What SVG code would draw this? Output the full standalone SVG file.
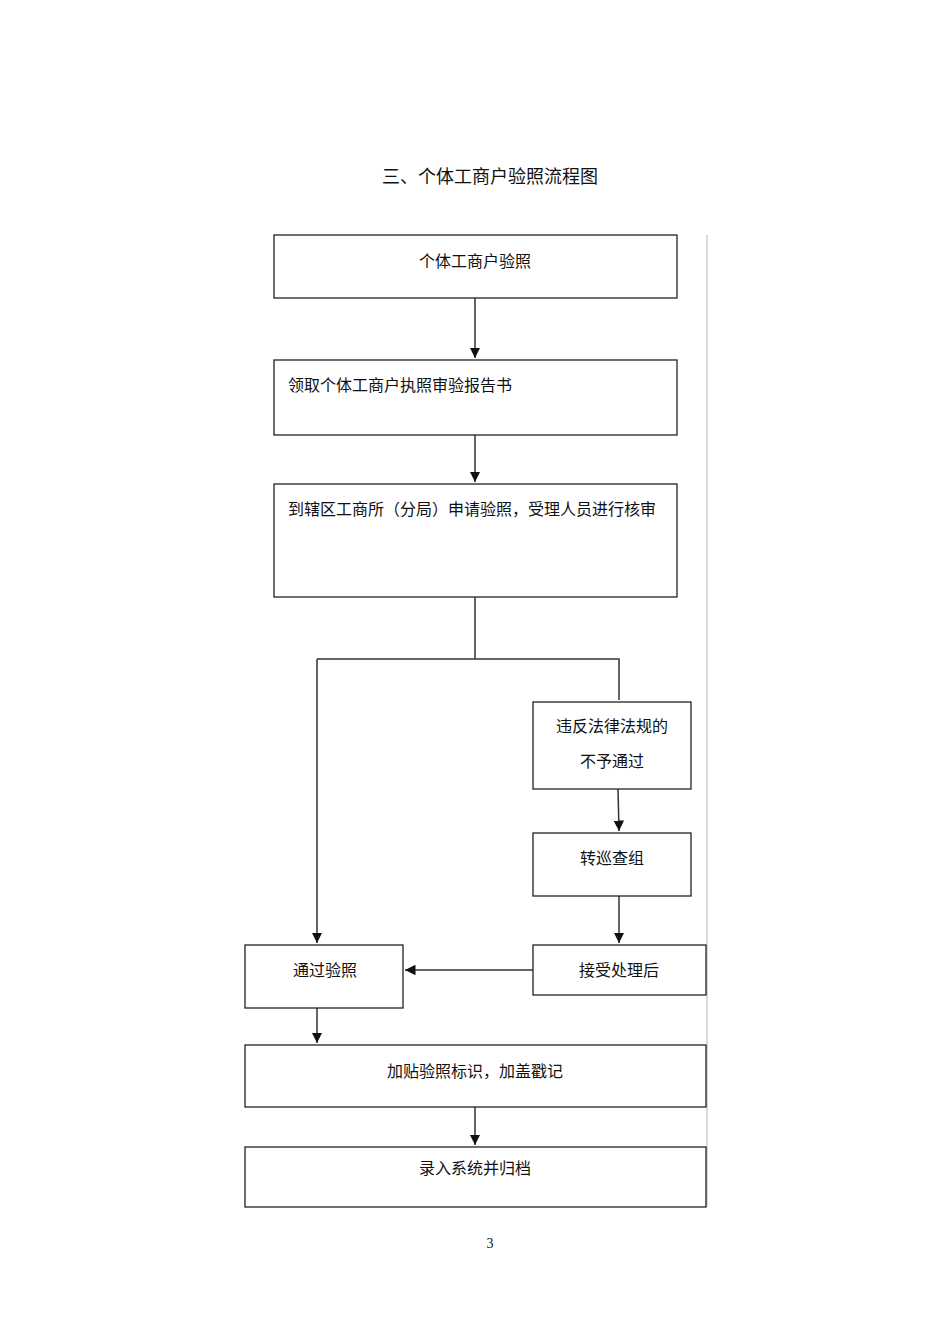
<svg xmlns="http://www.w3.org/2000/svg" width="950" height="1344" viewBox="0 0 950 1344">
<style>
rect{fill:#fff;stroke:#222;stroke-width:1.3}
text{font-family:"Liberation Serif","Noto Sans CJK SC",serif;font-size:16px;fill:#111}
.c{text-anchor:middle}
.l{fill:none;stroke:#333;stroke-width:1.5}
</style>
<defs><marker id="a" viewBox="0 0 10 10" refX="10" refY="5" markerWidth="7" markerHeight="7" orient="auto"><path d="M0,0L10,5L0,10z" fill="#111"/></marker></defs>
<rect width="950" height="1344" style="stroke:none"/>
<text class="c" x="490" y="183" style="font-size:18px">三、个体工商户验照流程图</text>
<line x1="707" y1="235" x2="707" y2="1207" stroke="#ccc" stroke-width="1.5"/>
<g id="connectors">
<path class="l" d="M475,298V358" marker-end="url(#a)"/>
<path class="l" d="M475,435V482" marker-end="url(#a)"/>
<path class="l" d="M475,597V659M317,659H619V700M317,659V943" marker-end="url(#a)"/>
<path class="l" d="M618,789L619,831" marker-end="url(#a)"/>
<path class="l" d="M619,896V943" marker-end="url(#a)"/>
<path class="l" d="M533,970H405" marker-end="url(#a)"/>
<path class="l" d="M317,1008V1043" marker-end="url(#a)"/>
<path class="l" d="M475,1107V1145" marker-end="url(#a)"/>
</g>
<g id="n1"><rect x="274" y="235" width="403" height="63"/><text class="c" x="475" y="267">个体工商户验照</text></g>
<g id="n2"><rect x="274" y="360" width="403" height="75"/><text x="288" y="391">领取个体工商户执照审验报告书</text></g>
<g id="n3"><rect x="274" y="484" width="403" height="113"/><text x="288" y="515">到辖区工商所（分局）申请验照，受理人员进行核审</text></g>
<g id="n4"><rect x="533" y="702" width="158" height="87"/><text class="c" x="612" y="732">违反法律法规的</text><text class="c" x="612" y="767">不予通过</text></g>
<g id="n5"><rect x="533" y="833" width="158" height="63"/><text class="c" x="612" y="864">转巡查组</text></g>
<g id="n6"><rect x="533" y="945" width="173" height="50"/><text class="c" x="619" y="976">接受处理后</text></g>
<g id="n7"><rect x="245" y="945" width="158" height="63"/><text class="c" x="325" y="976">通过验照</text></g>
<g id="n8"><rect x="245" y="1045" width="461" height="62"/><text class="c" x="475" y="1077">加贴验照标识，加盖戳记</text></g>
<g id="n9"><rect x="245" y="1147" width="461" height="60"/><text class="c" x="475" y="1174">录入系统并归档</text></g>
<text class="c" x="490" y="1248" style="font-size:14px">3</text>
</svg>
